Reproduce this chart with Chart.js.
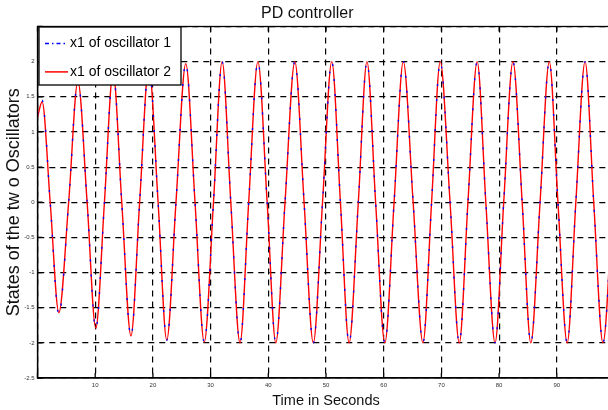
<!DOCTYPE html>
<html>
<head>
<meta charset="utf-8">
<script src="https://cdn.jsdelivr.net/npm/chart.js@4.4.1/dist/chart.umd.min.js"></script>
<style>
  html, body { margin: 0; padding: 0; background: #fff; overflow: hidden; }
  #wrap { width: 608px; height: 410px; overflow: hidden; }
</style>
</head>
<body>
<div id="wrap"><canvas id="myChart" width="620" height="410"></canvas></div>
<script>
// time (s) of the peaks, zero crossings and troughs
const timeSec = [0, 0.8, 2.2, 3.7, 5.4, 7.0, 8.6, 10.1, 11.6, 13.1, 14.6, 16.2, 17.7, 19.3, 20.9, 22.4,
  24.0, 25.7, 27.3, 28.9, 30.5, 32.0, 33.5, 35.1, 36.6, 38.2, 39.8, 41.3, 42.9, 44.6, 46.2, 47.8,
  49.4, 51.0, 52.5, 54.0, 55.6, 57.1, 58.6, 60.2, 61.8, 63.4, 65.1, 66.8, 68.3, 69.8, 71.5, 73.1,
  74.6, 76.2, 77.7, 79.3, 80.8, 82.4, 84.0, 85.5, 87.1, 88.7, 90.2, 91.8, 93.3, 94.9, 96.4, 98.0,
  99.6, 100];
const osc1 = [1.25, 1.45, 0, -1.60, 0, 1.73, 0, -1.80, 0, 1.86, 0, -1.91, 0, 1.94, 0, -1.96,
  0, 1.98, 0, -1.99, 0, 2.0, 0, -2.0, 0, 2.0, 0, -2.0, 0, 2.0, 0, -2.0,
  0, 2.0, 0, -2.0, 0, 2.0, 0, -2.0, 0, 2.0, 0, -2.0, 0, 2.0, 0, -2.0,
  0, 2.0, 0, -2.0, 0, 2.0, 0, -2.0, 0, 2.0, 0, -2.0, 0, 2.0, 0, -2.0,
  0, 0.8];
const osc2 = [1.21, 1.43, 0, -1.57, 0, 1.72, 0, -1.79, 0, 1.85, 0, -1.90, 0, 1.93, 0, -1.96,
  0, 1.97, 0, -1.99, 0, 2.0, 0, -2.0, 0, 2.0, 0, -2.0, 0, 2.0, 0, -2.0,
  0, 2.0, 0, -2.0, 0, 2.0, 0, -2.0, 0, 2.0, 0, -2.0, 0, 2.0, 0, -2.0,
  0, 2.0, 0, -2.0, 0, 2.0, 0, -2.0, 0, 2.0, 0, -2.0, 0, 2.0, 0, -2.0,
  0, 0.8];
const xTickValues = [0, 10, 20, 30, 40, 50, 60, 70, 80, 90, 100];
const yTickValues = [-2.5, -2, -1.5, -1, -0.5, 0, 0.5, 1, 1.5, 2, 2.5];
const seriesNames = ["x1 of oscillator 1", "x1 of oscillator 2"];

const pts = vals => timeSec.map((t, i) => ({ x: t, y: vals[i] }));

// box, inward ticks
const frame = {
  id: 'frame',
  afterDatasetsDraw(chart) {
    const ctx = chart.ctx, a = chart.chartArea;
    const xs = chart.scales.x, ys = chart.scales.y;
    ctx.save();
    ctx.strokeStyle = '#000';
    ctx.lineWidth = 1.3;
    ctx.strokeRect(a.left, a.top, a.right - a.left, a.bottom - a.top);
    ctx.beginPath();
    xTickValues.forEach(v => {
      const px = xs.getPixelForValue(v);
      ctx.moveTo(px, a.top); ctx.lineTo(px, a.top + 5);
      ctx.moveTo(px, a.bottom); ctx.lineTo(px, a.bottom - 5);
    });
    yTickValues.forEach(v => {
      const py = ys.getPixelForValue(v);
      ctx.moveTo(a.left, py); ctx.lineTo(a.left + 5, py);
    });
    ctx.stroke();
    ctx.restore();
  }
};

// legend box drawn over the lines, like the matlab one
const boxLegend = {
  id: 'boxLegend',
  afterDraw(chart) {
    const ctx = chart.ctx, a = chart.chartArea;
    const x = a.left + 1.5, y = a.top + 0.5, w = 142, h = 58;
    ctx.save();
    ctx.fillStyle = '#fff';
    ctx.fillRect(x, y, w, h);
    ctx.strokeStyle = '#000';
    ctx.lineWidth = 1.3;
    ctx.strokeRect(x, y, w, h);
    ctx.font = '14px "Liberation Sans", Arial, sans-serif';
    ctx.textBaseline = 'middle';
    chart.data.datasets.forEach((ds, i) => {
      const ly = y + 16.5 + i * 28.4;
      ctx.strokeStyle = ds.borderColor;
      ctx.lineWidth = 1.5;
      ctx.setLineDash(ds.legendDash);
      ctx.beginPath(); ctx.moveTo(x + 6, ly); ctx.lineTo(x + 29, ly); ctx.stroke();
      ctx.setLineDash([]);
      ctx.fillStyle = '#000';
      ctx.fillText(ds.label, x + 31, ly);
    });
    ctx.restore();
  }
};

const ctx = document.getElementById("myChart").getContext("2d");
const chart = new Chart(ctx, {
  type: "line",
  data: {
    datasets: [
      {
        label: seriesNames[0],
        data: pts(osc1),
        borderColor: "#0000ff",
        borderWidth: 1.4,
        borderDash: [2, 13],
        legendDash: [4, 3, 1.5, 3],
        pointRadius: 0,
        cubicInterpolationMode: "monotone"
      },
      {
        label: seriesNames[1],
        data: pts(osc2),
        borderColor: "#ff0000",
        borderWidth: 1.4,
        legendDash: [],
        pointRadius: 0,
        cubicInterpolationMode: "monotone"
      }
    ]
  },
  options: {
    responsive: false,
    animation: false,
    layout: { padding: { left: 0, right: 5.5, top: 0, bottom: 0 } },
    plugins: {
      legend: { display: false },
      tooltip: { enabled: false },
      title: {
        display: true,
        text: "PD controller",
        color: "#111",
        font: { family: '"Liberation Sans", Arial, sans-serif', size: 16, weight: 'normal' },
        padding: { top: 4, bottom: 3.3 }
      }
    },
    scales: {
      x: {
        type: "linear",
        min: 0,
        max: 100,
        afterBuildTicks: s => { s.ticks = xTickValues.map(v => ({ value: v })); },
        afterFit: s => { s.height = 32; },
        grid: { color: "#000", lineWidth: 1.2, drawTicks: false },
        border: { color: "#000", width: 1.3, dash: [6, 5] },
        ticks: {
          color: "#333",
          font: { size: 6, family: 'Arial, sans-serif' },
          padding: 4,
          maxRotation: 0,
          autoSkip: false,
          callback: v => (v === 0 || v === 100) ? "" : String(v)
        },
        title: {
          display: true,
          text: "Time in Seconds",
          color: "#111",
          font: { family: '"Liberation Sans", Arial, sans-serif', size: 14.5 },
          padding: { top: 0, bottom: 0 }
        }
      },
      y: {
        min: -2.5,
        max: 2.5,
        afterBuildTicks: s => { s.ticks = yTickValues.map(v => ({ value: v })); },
        afterFit: s => { s.width = 37.5; },
        grid: { color: "#000", lineWidth: 1.2, drawTicks: false },
        border: { color: "#000", width: 1.3, dash: [6, 5] },
        ticks: {
          color: "#333",
          font: { size: 6, family: 'Arial, sans-serif' },
          padding: 3,
          callback: v => v === 2.5 ? "" : String(v)
        },
        title: {
          display: true,
          text: "States of the tw o Oscillators",
          color: "#111",
          font: { family: '"Liberation Sans", Arial, sans-serif', size: 18 },
          padding: { top: 3, bottom: 0 }
        }
      }
    }
  },
  plugins: [frame, boxLegend]
});
</script>
</body>
</html>
